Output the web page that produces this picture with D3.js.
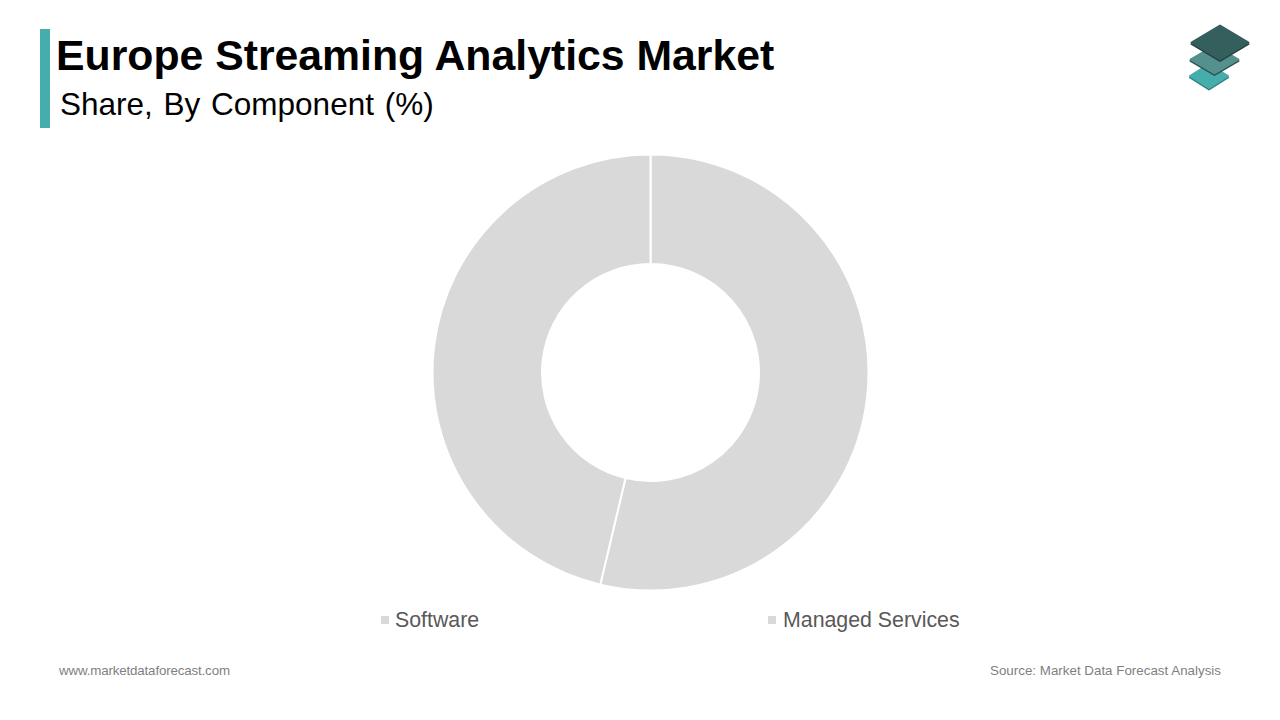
<!DOCTYPE html>
<html><head><meta charset="utf-8">
<script src="https://cdn.jsdelivr.net/npm/d3@7"></script>
<style>html,body{margin:0;padding:0;background:#fff}svg{display:block}text{font-family:"Liberation Sans",Arial,sans-serif}</style>
</head><body><svg id="c" width="1280" height="720"></svg>
<script>
const categories=["Software","Managed Services"];
const shares=[53.7,46.3];
const colors=["#d9d9d9","#d9d9d9"];
const svg=d3.select("#c");
svg.append("rect").attr("x",40).attr("y",29).attr("width",10).attr("height",99).attr("fill","#45aeac");
svg.append("text").attr("x",56).attr("y",70).attr("font-size",42.75).attr("font-weight",700).attr("fill","#000").text("Europe Streaming Analytics Market");
svg.append("text").attr("x",60).attr("y",114.5).attr("font-size",31.5).attr("word-spacing",2).attr("fill","#000").text("Share, By Component (%)");
const pie=d3.pie().sort(null)(shares);
const arc=d3.arc().innerRadius(108.5).outerRadius(218);
svg.append("g").attr("transform","translate(650.5,372.5)").selectAll("path").data(pie).join("path")
 .attr("d",arc).attr("fill",(d,i)=>colors[i]).attr("stroke","#fff").attr("stroke-width",2);
const legendX=d3.scalePoint().domain(categories).range([381,768]);
const lg=svg.append("g").selectAll("g").data(categories).join("g").attr("transform",d=>`translate(${legendX(d)},0)`);
lg.append("rect").attr("y",616).attr("width",8).attr("height",8).attr("fill",(d,i)=>colors[i]);
lg.append("text").attr("x",d=>d==="Software"?14:15).attr("y",627).attr("font-size",21.33).attr("fill","#595959").text(d=>d);
svg.append("text").attr("x",59).attr("y",675).attr("font-size",13.33).attr("fill","#7f7f7f").attr("textLength",171).text("www.marketdataforecast.com");
svg.append("text").attr("x",990).attr("y",675).attr("font-size",13.33).attr("fill","#7f7f7f").attr("textLength",231).text("Source: Market Data Forecast Analysis");
// logo
const logo=svg.append("g").attr("stroke-linejoin","round");
const diamond=(cx,cy,w,h)=>`M${cx-w},${cy} L${cx},${cy+h} L${cx+w},${cy} L${cx},${cy-h}Z`;
const layer=(cx,cy,w,h,top,side)=>{
 logo.append("path").attr("d",diamond(cx,cy+1.5,w-1,h-1)).attr("fill",side).attr("stroke",side).attr("stroke-width",2);
 logo.append("path").attr("d",diamond(cx,cy,w-1,h-1)).attr("fill",top).attr("stroke",top).attr("stroke-width",2);
};
layer(1209,76,20,13,"#45aeac","#2f7f7d");
layer(1214.5,59.5,25,15,"#54908e","#2a4f4e");
layer(1220,42.5,29.5,18,"#355f5d","#22403f");
</script></body></html>
